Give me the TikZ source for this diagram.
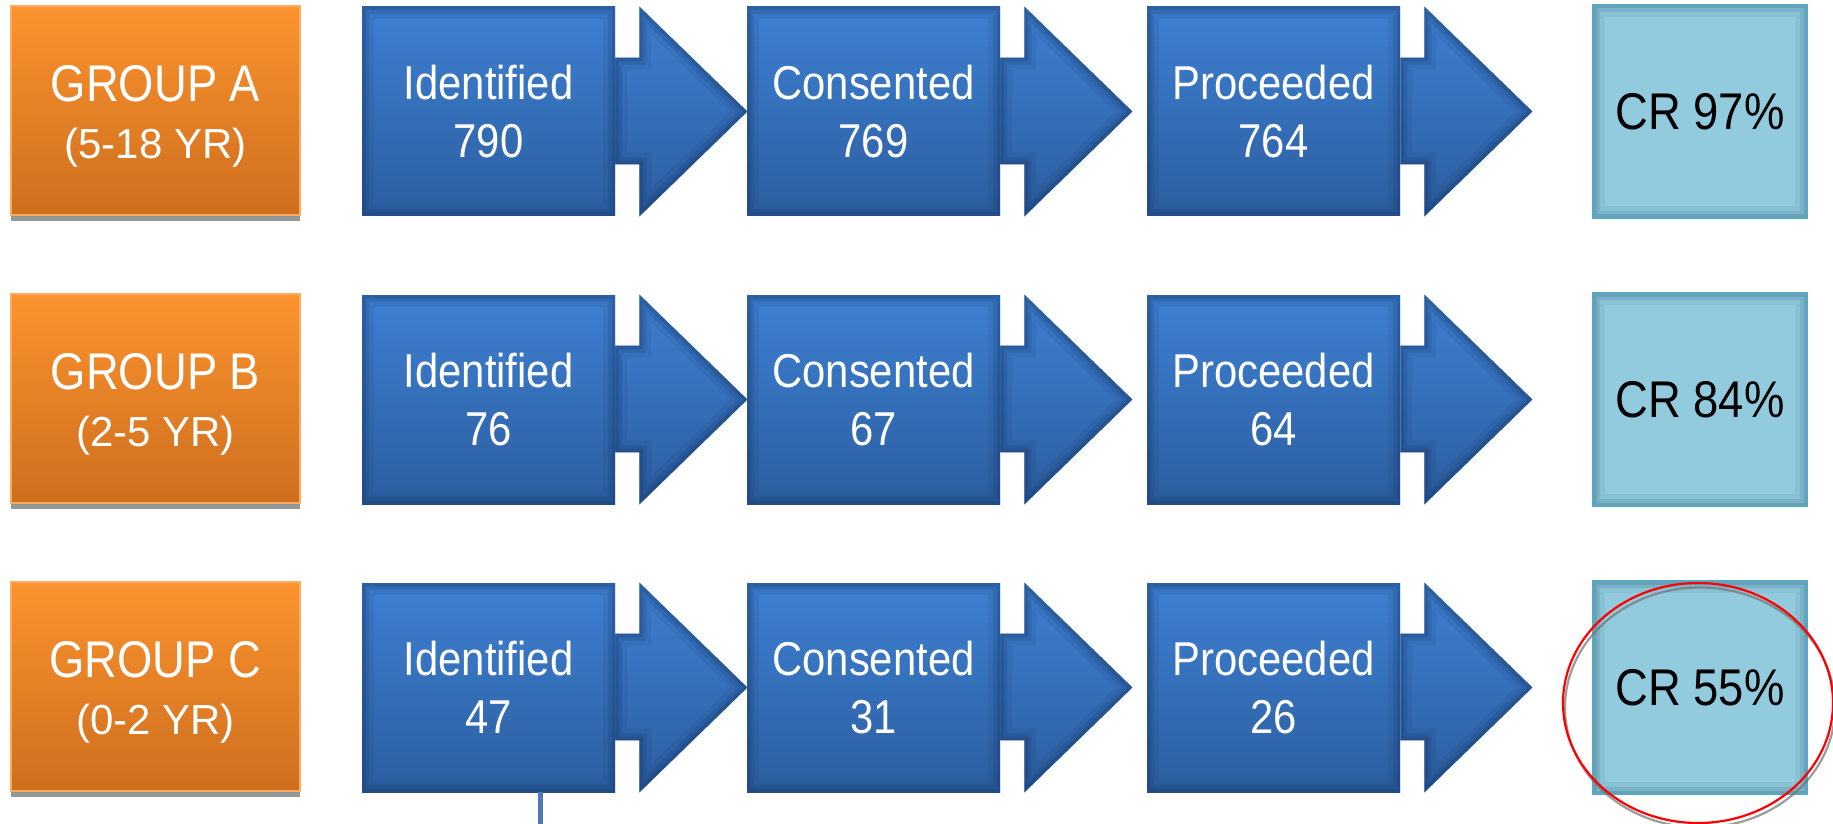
\documentclass[tikz,border=0pt]{standalone}
\usepackage{fontspec}
\setmainfont[FakeStretch=0.88]{Liberation Sans}
\newfontfamily\agefont{Liberation Sans}
\usetikzlibrary{calc}

\definecolor{grpTop}{RGB}{251,147,46}
\definecolor{grpBot}{RGB}{206,110,30}
\definecolor{grpEdge}{RGB}{250,172,100}
\definecolor{grpShadow}{RGB}{150,150,150}
\definecolor{stageTop}{RGB}{62,128,210}
\definecolor{stageBot}{RGB}{44,94,160}
\definecolor{stageGlow}{RGB}{20,52,100}
\definecolor{crFill}{RGB}{146,203,221}
\definecolor{crEdge}{RGB}{84,170,198}
\definecolor{crGlow}{RGB}{50,105,130}
\definecolor{tailBlue}{RGB}{79,122,186}

% soft inner shading along the edge of the current path picture
\newcommand\softedge[1]{%
  \foreach \w/\o in {12/0.10, 7/0.16, 3.5/0.22}{
    \draw[#1, opacity=\o, line width=\w pt]
      (path picture bounding box.south west) rectangle (path picture bounding box.north east);}}

\tikzset{
  grpbox/.style={minimum width=144.5pt, minimum height=104.5pt, inner sep=0pt,
    text=white, align=center, top color=grpTop, bottom color=grpBot,
    draw=grpEdge, line width=0.6pt,
    preaction={fill=grpShadow, transform canvas={yshift=-3pt}},
    font=\fontsize{25.8}{28.5}\selectfont},
  stagebox/.style={minimum width=126.5pt, minimum height=104.5pt, inner sep=0pt,
    text=white, align=center, top color=stageTop, bottom color=stageBot,
    font=\fontsize{23.75}{29}\selectfont,
    path picture={\softedge{stageGlow}}},
  headfill/.style={top color=stageTop, bottom color=stageBot},
  crbox/.style={minimum width=107pt, minimum height=106.5pt, inner sep=0pt,
    text=black, fill=crFill, draw=crEdge, line width=1pt,
    font=\fontsize{25.8}{30}\selectfont,
    path picture={\softedge{crGlow}}},
  tailline/.style={tailBlue, line width=2.5pt},
  ring/.style={red, line width=1.1pt},
  ringshadow/.style={black!55, opacity=0.7, line width=1.1pt}
}

% neck and arrow head that follow a stage box
\newcommand\headpath[1]{($(#1.north east)+(0,51)$) -- ($(#1.north east)+(24,51)$)
  -- ($(#1.north east)+(24,0)$) -- ($(#1.east)+(132,0)$)
  -- ($(#1.south east)+(24,0)$) -- ($(#1.south east)+(24,-52)$)
  -- ($(#1.south east)+(0,-52)$) -- cycle}
\newcommand\stagehead[1]{%
  \path[headfill] \headpath{#1};
  \begin{scope}
    \clip \headpath{#1};
    \foreach \w/\o in {12/0.10, 7/0.16, 3.5/0.22}{
      \draw[stageGlow, opacity=\o, line width=\w pt] \headpath{#1};}
  \end{scope}}

\begin{document}
\begin{tikzpicture}[x=0.5pt,y=-0.5pt]
\useasboundingbox (0,0) rectangle (1833,824);
\fill[white] (0,0) rectangle (1833,824);

\foreach \row/\age/\ni/\nc/\np/\rate [count=\r from 0] in
  {A/5-18/790/769/764/97, B/2-5/76/67/64/84, C/0-2/47/31/26/55}{
  \pgfmathsetmacro\yo{288*\r}
  \node[grpbox] (grp\row) at (155.5,110.5+\yo)
    {\rule{0pt}{24pt}GROUP \row\\{\agefont\fontsize{21}{28.5}\selectfont(\age\ YR)}};
  \node[stagebox] (id\row)  at (488.5,111.5+\yo)  {Identified\\\ni};
  \node[stagebox] (con\row) at (873.5,111.5+\yo)  {Consented\\\nc};
  \node[stagebox] (pro\row) at (1273.5,111.5+\yo) {Proceeded\\\np};
  \stagehead{id\row}
  \stagehead{con\row}
  \stagehead{pro\row}
  \node[crbox] (cr\row) at (1700,111.5+\yo) {CR \rate\%};
}

% marker below the first stage of the last row
\coordinate (tail) at (540,824);
\draw[tailline] (tail |- idC.south) -- (tail);

% highlight round the last rate
\draw[ringshadow] ($(crC.center)+(0,20)$) ellipse [x radius=67.5pt, y radius=60pt];
\draw[ring] ($(crC.center)+(-2,15.5)$) ellipse [x radius=67.5pt, y radius=60pt];
\end{tikzpicture}
\end{document}
